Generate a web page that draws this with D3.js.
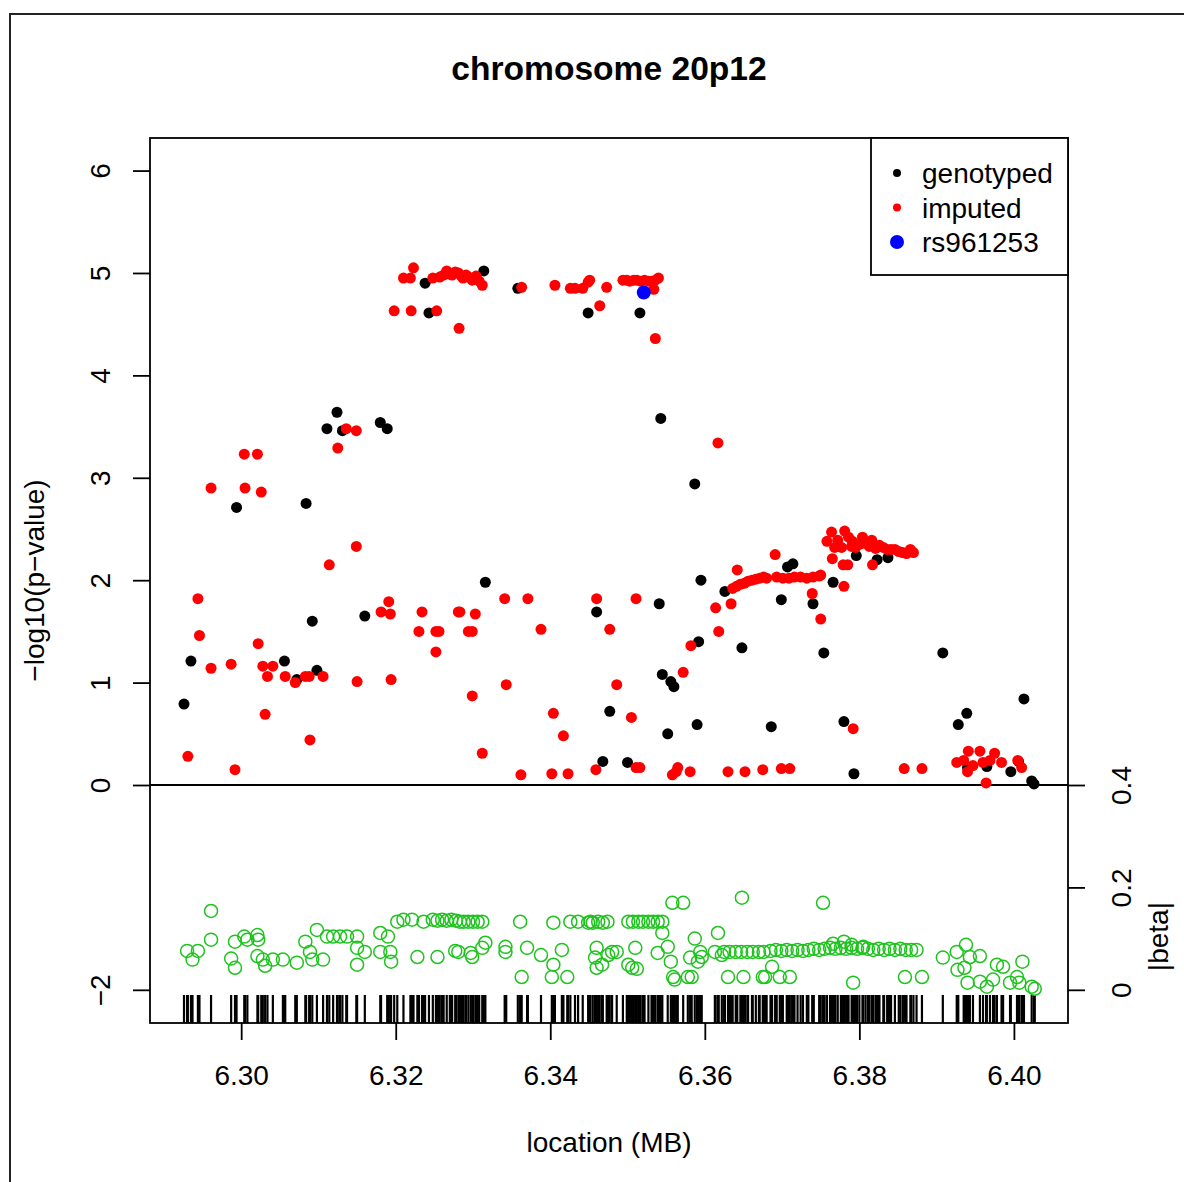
<!DOCTYPE html>
<html>
<head>
<meta charset="utf-8">
<script src="https://cdn.jsdelivr.net/npm/d3@7"></script>
<style>
  body { margin: 0; background: #fff; }
  svg { display: block; }
  text { font-family: "Liberation Sans", Arial, Helvetica, sans-serif; fill: #000; }
</style>
</head>
<body>
<svg id="chart" width="1184" height="1182"></svg>
<script>
// ---- data -------------------------------------------------------------
const chartTitle = "chromosome 20p12";
const xLabel = "location (MB)";
const yLabel = "\u2212log10(p\u2212value)";
const betaLabel = "|beta|";
const xTicks = [6.30, 6.32, 6.34, 6.36, 6.38, 6.40];
const yTicks = [-2, 0, 1, 2, 3, 4, 5, 6];
const betaTicks = [0, 0.2, 0.4];
const legendLabels = ["genotyped", "imputed", "rs961253"];

// [position (MB), -log10(p)]
const genotyped = [
  [6.2926,0.79],[6.2935,1.21],[6.2994,2.71],[6.3056,1.21],[6.3072,1.03],[6.3084,2.75],
  [6.3092,1.60],[6.3098,1.12],[6.3111,3.48],[6.3124,3.64],[6.3131,3.46],[6.3160,1.65],
  [6.3180,3.54],[6.3189,3.48],[6.3238,4.90],[6.3243,4.61],[6.3314,5.02],[6.3316,1.98],
  [6.3358,4.85],[6.3449,4.61],[6.3460,1.69],[6.3468,0.23],[6.3477,0.72],[6.3500,0.22],
  [6.3516,4.61],[6.3541,1.77],[6.3543,3.58],[6.3545,1.08],[6.3556,1.01],[6.3560,0.96],
  [6.3552,0.50],[6.3587,2.94],[6.3590,0.59],[6.3592,1.40],[6.3595,2.00],[6.3626,1.89],
  [6.3648,1.34],[6.3686,0.57],[6.3699,1.81],[6.3707,2.13],[6.3714,2.16],[6.3740,1.77],
  [6.3754,1.29],[6.3766,1.98],[6.3780,0.62],[6.3793,0.11],[6.3796,2.24],[6.3823,2.20],
  [6.3837,2.22],[6.3908,1.29],[6.3928,0.59],[6.3939,0.70],[6.3940,0.17],[6.3965,0.18],
  [6.3996,0.13],[6.4006,0.23],[6.4013,0.84],[6.4023,0.04],[6.4026,0.01]
];

const imputed = [
  [6.2931,0.28],[6.2944,1.82],[6.2946,1.46],[6.2961,1.14],[6.2961,2.90],[6.2987,1.18],
  [6.2992,0.15],[6.3004,3.23],[6.3005,2.90],[6.3021,3.23],[6.3026,2.86],[6.3022,1.38],
  [6.3028,1.16],[6.3031,0.69],[6.3034,1.06],[6.3041,1.16],[6.3057,1.06],[6.3070,1.00],
  [6.3083,1.06],[6.3088,1.06],[6.3089,0.44],[6.3106,1.06],[6.3114,2.15],[6.3125,3.29],
  [6.3136,3.48],[6.3149,3.46],[6.3149,2.33],[6.3150,1.01],[6.3181,1.69],[6.3191,1.79],
  [6.3193,1.67],[6.3194,1.03],
  [6.3198,4.63],[6.3210,4.95],[6.3219,4.95],[6.3223,5.05],[6.3220,4.63],[6.3253,4.63],
  [6.3248,4.95],[6.3257,4.96],[6.3262,4.98],[6.3266,5.02],[6.3270,4.99],[6.3273,4.98],
  [6.3277,5.01],[6.3281,5.00],[6.3285,4.97],[6.3287,4.95],[6.3291,4.98],[6.3294,4.96],
  [6.3299,4.93],[6.3304,4.97],[6.3308,4.92],[6.3312,4.88],[6.3282,4.46],
  [6.3234,1.69],[6.3230,1.50],[6.3252,1.50],[6.3256,1.50],[6.3252,1.30],[6.3281,1.69],
  [6.3283,1.69],[6.3303,1.67],[6.3294,1.50],[6.3299,1.50],[6.3299,0.87],[6.3312,0.31],
  [6.3341,1.82],[6.3343,0.98],[6.3362,0.10],[6.3363,4.86],[6.3371,1.82],[6.3388,1.52],
  [6.3404,0.70],[6.3402,0.11],[6.3406,4.88],[6.3417,0.48],[6.3423,0.11],[6.3426,4.85],
  [6.3432,4.85],[6.3442,4.85],[6.3449,4.91],[6.3451,4.93],[6.3459,0.15],[6.3460,1.82],
  [6.3464,4.68],[6.3473,4.86],[6.3477,1.52],[6.3486,0.98],[6.3505,0.66],[6.3511,1.82],
  [6.3511,0.17],[6.3516,0.17],
  [6.3494,4.93],[6.3499,4.93],[6.3503,4.92],[6.3508,4.93],[6.3512,4.93],[6.3517,4.92],
  [6.3522,4.93],[6.3527,4.92],[6.3531,4.92],[6.3536,4.93],[6.3540,4.95],[6.3534,4.84],
  [6.3536,4.36],
  [6.3558,0.10],[6.3565,0.17],[6.3563,0.13],[6.3581,0.13],[6.3572,1.10],[6.3582,1.36],
  [6.3614,1.73],[6.3617,3.34],[6.3618,1.50],[6.3630,0.13],[6.3634,1.77],[6.3652,0.13],
  [6.3675,0.15],[6.3642,2.10],
  [6.3636,1.92],[6.3641,1.94],[6.3646,1.96],[6.3651,1.97],[6.3656,1.99],[6.3661,2.00],
  [6.3666,2.01],[6.3671,2.02],[6.3676,2.03],[6.3691,2.25],
  [6.3680,2.02],[6.3693,2.03],[6.3701,2.02],[6.3709,2.02],[6.3716,2.03],[6.3724,2.03],
  [6.3732,2.02],[6.3740,2.03],[6.3748,2.04],[6.3750,2.05],
  [6.3739,1.87],[6.3750,1.62],[6.3699,0.16],[6.3710,0.16],[6.3792,0.55],[6.3780,1.94],
  [6.3765,2.21],[6.3779,2.15],[6.3785,2.15],[6.3817,2.15],
  [6.3758,2.38],[6.3764,2.47],[6.3772,2.39],[6.3781,2.48],[6.3786,2.42],[6.3791,2.38],
  [6.3795,2.32],[6.3800,2.35],[6.3804,2.42],[6.3808,2.36],[6.3813,2.33],[6.3816,2.39],
  [6.3821,2.31],[6.3826,2.34],[6.3831,2.32],[6.3836,2.30],[6.3841,2.30],[6.3846,2.30],
  [6.3851,2.28],[6.3856,2.27],[6.3861,2.26],[6.3866,2.30],[6.3870,2.27],[6.3768,2.32],
  [6.3777,2.32],[6.3790,2.33],
  [6.3858,0.16],[6.3881,0.16],
  [6.3926,0.22],[6.3935,0.24],[6.3941,0.33],[6.3947,0.19],[6.3956,0.33],[6.3960,0.22],
  [6.3969,0.24],[6.3975,0.31],[6.3984,0.22],[6.4005,0.24],[6.4010,0.17],[6.3940,0.13],
  [6.3964,0.02]
];

const leadSnp = [[6.3521, 4.81]];

// [position (MB), |beta|]
const betaValues = [
  [6.2961,0.154],[6.2930,0.076],[6.2937,0.059],[6.2944,0.076],[6.2961,0.098],[6.2987,0.061],
  [6.2992,0.043],[6.2992,0.094],[6.3004,0.104],[6.3008,0.098],[6.3021,0.107],[6.3022,0.098],
  [6.3021,0.066],[6.3028,0.059],[6.3031,0.047],[6.3041,0.059],[6.3054,0.059],[6.3072,0.053],
  [6.3083,0.094],[6.3089,0.074],[6.3092,0.059],[6.3098,0.117],[6.3106,0.059],[6.3111,0.104],
  [6.3119,0.104],[6.3128,0.104],[6.3137,0.104],[6.3150,0.104],[6.3150,0.082],[6.3160,0.074],
  [6.3150,0.049],[6.3180,0.111],[6.3180,0.074],[6.3190,0.104],[6.3193,0.074],[6.3194,0.055],
  [6.3202,0.133],[6.3210,0.137],[6.3221,0.137],[6.3228,0.064],[6.3236,0.133],[6.3254,0.064],
  [6.3248,0.137],[6.3254,0.135],[6.3260,0.137],[6.3266,0.135],[6.3272,0.137],[6.3278,0.135],
  [6.3283,0.133],[6.3281,0.074],[6.3288,0.133],[6.3294,0.133],[6.3300,0.133],[6.3306,0.133],
  [6.3312,0.133],[6.3277,0.076],[6.3297,0.072],[6.3299,0.064],[6.3316,0.092],[6.3312,0.082],
  [6.3342,0.084],[6.3342,0.074],[6.3361,0.133],[6.3363,0.025],[6.3370,0.082],[6.3388,0.068],
  [6.3404,0.049],[6.3402,0.025],[6.3404,0.131],[6.3415,0.078],[6.3422,0.025],[6.3426,0.133],
  [6.3436,0.133],[6.3449,0.131],[6.3452,0.133],[6.3455,0.131],[6.3462,0.133],[6.3468,0.131],
  [6.3474,0.133],[6.3460,0.082],[6.3458,0.063],[6.3467,0.049],[6.3460,0.043],[6.3480,0.074],
  [6.3475,0.068],[6.3486,0.074],[6.3501,0.049],[6.3512,0.041],[6.3506,0.043],[6.3510,0.082],
  [6.3501,0.133],[6.3507,0.133],[6.3514,0.133],[6.3520,0.133],[6.3527,0.133],[6.3533,0.133],
  [6.3539,0.133],[6.3545,0.133],[6.3539,0.072],[6.3545,0.111],[6.3552,0.084],[6.3556,0.055],
  [6.3559,0.025],[6.3561,0.020],[6.3578,0.025],[6.3581,0.063],[6.3583,0.025],[6.3558,0.170],
  [6.3572,0.170],[6.3587,0.100],[6.3594,0.074],[6.3591,0.055],[6.3596,0.064],[6.3617,0.111],
  [6.3613,0.074],[6.3622,0.068],[6.3648,0.180],[6.3630,0.025],[6.3650,0.025],[6.3675,0.025],
  [6.3625,0.074],[6.3632,0.074],[6.3640,0.074],[6.3647,0.074],[6.3655,0.074],[6.3662,0.074],
  [6.3670,0.074],[6.3676,0.074],
  [6.3685,0.076],[6.3692,0.078],[6.3699,0.076],[6.3706,0.078],[6.3713,0.076],[6.3720,0.078],
  [6.3727,0.076],[6.3734,0.078],[6.3741,0.080],[6.3748,0.078],[6.3755,0.080],[6.3762,0.082],
  [6.3769,0.080],[6.3776,0.082],[6.3783,0.080],[6.3790,0.082],[6.3797,0.080],[6.3804,0.082],
  [6.3811,0.080],[6.3818,0.078],[6.3825,0.080],[6.3832,0.078],[6.3839,0.080],[6.3846,0.078],
  [6.3853,0.080],[6.3860,0.078],[6.3867,0.078],[6.3874,0.078],[6.3766,0.090],[6.3780,0.094],
  [6.3790,0.088],[6.3805,0.084],
  [6.3753,0.170],[6.3687,0.045],[6.3678,0.025],[6.3697,0.025],[6.3710,0.025],[6.3792,0.014],
  [6.3859,0.025],[6.3881,0.025],[6.3908,0.063],[6.3926,0.074],[6.3938,0.088],[6.3943,0.064],
  [6.3956,0.066],[6.3927,0.039],[6.3936,0.043],[6.3940,0.014],[6.3956,0.016],[6.3973,0.020],
  [6.3978,0.049],[6.3986,0.045],[6.3965,0.006],[6.3995,0.014],[6.4004,0.025],[6.4011,0.055],
  [6.4007,0.014],[6.4023,0.006],[6.4027,0.002]
];

// ---- layout -----------------------------------------------------------
const W = 1184, H = 1182;
const box = { left: 150, right: 1068, top: 138, bottom: 1023 };
const colors = { genotyped: "#000000", imputed: "#ff0000", lead: "#0000ff", beta: "#1ec31e" };
const fontSize = 28;

const svg = d3.select("#chart");

const x = d3.scaleLinear().domain([6.2882, 6.4070]).range([box.left, box.right]);
const y = d3.scaleLinear().domain([-2.324, 6.318]).range([box.bottom, box.top]);
// |beta| is drawn in the lower band: 0 -> y=-2, 0.4 -> y=0
const yBeta = d3.scaleLinear().domain([0, 0.4]).range([y(-2), y(0)]);

// outer frame
svg.append("rect")
  .attr("x", 10).attr("y", 14).attr("width", W).attr("height", H)
  .attr("fill", "none").attr("stroke", "#222").attr("stroke-width", 2);

// title
svg.append("text")
  .attr("x", (box.left + box.right) / 2).attr("y", 80)
  .attr("text-anchor", "middle")
  .attr("font-weight", "bold").attr("font-size", fontSize * 1.2)
  .text(chartTitle);

// rug of SNP positions along the bottom of the plot
const rugPositions = Array.from(new Set(
  [...genotyped, ...imputed, ...leadSnp, ...betaValues].map(d => d[0])
));
svg.append("g").selectAll("line").data(rugPositions).join("line")
  .attr("x1", d => x(d)).attr("x2", d => x(d))
  .attr("y1", box.bottom).attr("y2", box.bottom - 28)
  .attr("stroke", "#000").attr("stroke-width", 2.2);

// |beta| circles
svg.append("g").selectAll("circle").data(betaValues).join("circle")
  .attr("cx", d => x(d[0])).attr("cy", d => yBeta(d[1])).attr("r", 6.5)
  .attr("fill", "none").attr("stroke", colors.beta).attr("stroke-width", 1.5);

// zero line
svg.append("line")
  .attr("x1", box.left).attr("x2", box.right)
  .attr("y1", y(0)).attr("y2", y(0))
  .attr("stroke", "#000").attr("stroke-width", 1.8);

// association points
const pts = svg.append("g");
pts.selectAll("circle.g").data(genotyped).join("circle").attr("class", "g")
  .attr("cx", d => x(d[0])).attr("cy", d => y(d[1])).attr("r", 5.5).attr("fill", colors.genotyped);
pts.selectAll("circle.i").data(imputed).join("circle").attr("class", "i")
  .attr("cx", d => x(d[0])).attr("cy", d => y(d[1])).attr("r", 5.5).attr("fill", colors.imputed);
pts.selectAll("circle.l").data(leadSnp).join("circle").attr("class", "l")
  .attr("cx", d => x(d[0])).attr("cy", d => y(d[1])).attr("r", 7).attr("fill", colors.lead);

// plot box
svg.append("rect")
  .attr("x", box.left).attr("y", box.top)
  .attr("width", box.right - box.left).attr("height", box.bottom - box.top)
  .attr("fill", "none").attr("stroke", "#000").attr("stroke-width", 1.8);

const fmtNum = d => (d < 0 ? "\u2212" + Math.abs(d) : String(d));

function styleAxis(g) {
  g.select(".domain").remove();
  g.selectAll(".tick line").attr("stroke", "#000").attr("stroke-width", 1.8);
  g.selectAll("text").attr("font-size", fontSize).attr("font-family", null).attr("fill", "#000");
}

// bottom axis
svg.append("g")
  .attr("transform", `translate(0,${box.bottom})`)
  .call(d3.axisBottom(x).tickValues(xTicks).tickSize(17).tickFormat(d3.format(".2f")))
  .call(styleAxis)
  .call(g => g.selectAll("text").attr("y", 62).attr("dy", null));

// left axis
svg.append("g")
  .attr("transform", `translate(${box.left},0)`)
  .call(d3.axisLeft(y).tickValues(yTicks).tickSize(17).tickFormat(fmtNum))
  .call(styleAxis)
  .call(g => g.selectAll("text")
    .attr("x", null).attr("dy", null)
    .attr("text-anchor", "middle")
    .attr("transform", "translate(-40,0) rotate(-90)"));

// right axis for |beta|
svg.append("g")
  .attr("transform", `translate(${box.right},0)`)
  .call(d3.axisRight(yBeta).tickValues(betaTicks).tickSize(17).tickFormat(d3.format(".1~f")))
  .call(styleAxis)
  .call(g => g.selectAll("text")
    .attr("x", null).attr("dy", null)
    .attr("text-anchor", "middle")
    .attr("transform", "translate(63,0) rotate(-90)"));

// axis titles
svg.append("text")
  .attr("x", (box.left + box.right) / 2).attr("y", 1152)
  .attr("text-anchor", "middle").attr("font-size", fontSize)
  .text(xLabel);

svg.append("text")
  .attr("transform", `translate(44,${(box.top + box.bottom) / 2}) rotate(-90)`)
  .attr("text-anchor", "middle").attr("font-size", fontSize)
  .text(yLabel);

svg.append("text")
  .attr("transform", `translate(1168,${(yBeta(0) + yBeta(0.2)) / 2 - 2}) rotate(-90)`)
  .attr("text-anchor", "middle").attr("font-size", fontSize)
  .text(betaLabel);

// legend
const legend = svg.append("g");
legend.append("rect")
  .attr("x", 871).attr("y", box.top).attr("width", box.right - 871).attr("height", 137)
  .attr("fill", "#fff").attr("stroke", "#000").attr("stroke-width", 1.8);
const legendColors = [colors.genotyped, colors.imputed, colors.lead];
const legendRadii = [4, 4, 7];
const legendY = [173, 207.5, 242];
legend.selectAll("circle").data(legendLabels).join("circle")
  .attr("cx", 897).attr("cy", (d, i) => legendY[i]).attr("r", (d, i) => legendRadii[i])
  .attr("fill", (d, i) => legendColors[i]);
legend.selectAll("text").data(legendLabels).join("text")
  .attr("x", 922).attr("y", (d, i) => legendY[i] + 10)
  .attr("font-size", fontSize)
  .text(d => d);
</script>
</body>
</html>
